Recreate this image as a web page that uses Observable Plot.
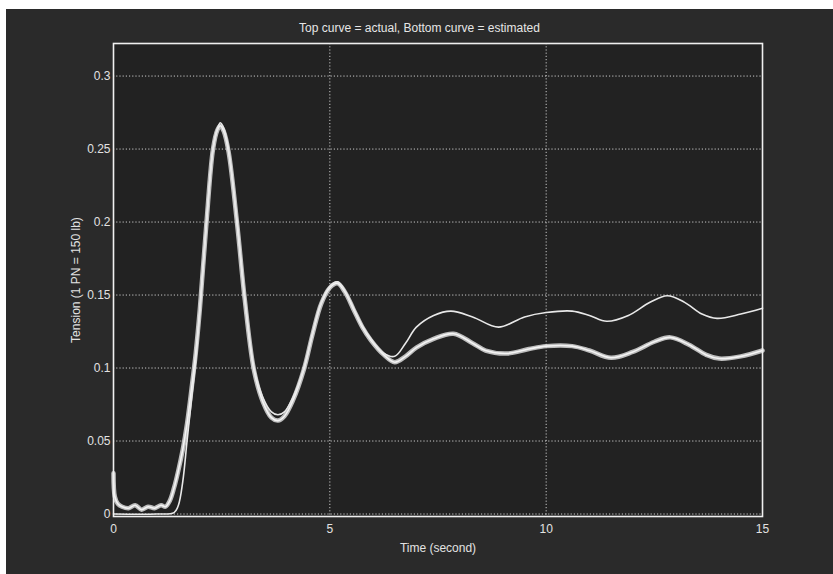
<!DOCTYPE html>
<html>
<head>
<meta charset="utf-8">
<script src="https://cdn.jsdelivr.net/npm/d3@7"></script>
<script src="https://cdn.jsdelivr.net/npm/@observablehq/plot@0.6"></script>
<style>
  html, body { margin: 0; padding: 0; background: #ffffff; }
  #panel { position: absolute; left: 6px; top: 9px; width: 827px; height: 565px; background: #2a2a2a; }
  #title { position: absolute; left: 0; width: 100%; top: 12px; text-align: center;
           font-family: "Liberation Sans", Arial, sans-serif; font-size: 12px; color: #e6e6e6; }
  #chart { position: absolute; left: 0; top: 0; }
</style>
</head>
<body>
<div id="panel">
  <div id="title">Top curve = actual, Bottom curve = estimated</div>
  <div id="chart"></div>
</div>
<script>
// Tick values
const xTicks = [0, 5, 10, 15];
const yTicks = [0, 0.05, 0.1, 0.15, 0.2, 0.25, 0.3];

// Actual (top) curve
const actualTime = [0, 1.0, 1.4, 1.5, 1.6, 1.7, 1.8, 1.9, 2.0, 2.15, 2.3, 2.4, 2.47, 2.55, 2.66, 2.86, 3.03, 3.25, 3.45, 3.65, 3.8, 3.95, 4.15, 4.4, 4.6, 4.8, 5.0, 5.18, 5.35, 5.55, 5.75, 5.95, 6.25, 6.5, 6.75, 7.0, 7.4, 7.8, 8.3, 8.9, 9.5, 10.0, 10.6, 11.0, 11.4, 11.9, 12.4, 12.8, 13.2, 13.6, 13.95, 14.5, 15];
const actualTension = [0, 0, 0.001, 0.006, 0.022, 0.05, 0.078, 0.105, 0.14, 0.2, 0.25, 0.264, 0.268, 0.264, 0.25, 0.2, 0.15, 0.1, 0.08, 0.07, 0.068, 0.07, 0.08, 0.1, 0.124, 0.145, 0.156, 0.159, 0.153, 0.141, 0.129, 0.12, 0.11, 0.108, 0.117, 0.128, 0.136, 0.139, 0.135, 0.128, 0.135, 0.138, 0.139, 0.136, 0.132, 0.136, 0.145, 0.1495, 0.145, 0.137, 0.134, 0.137, 0.141];

// Estimated (bottom) curve
const estTime = [0, 0.03, 0.1, 0.2, 0.35, 0.5, 0.65, 0.8, 0.95, 1.1, 1.2, 1.3, 1.4, 1.5, 1.6, 1.7, 1.8, 1.9, 2.0, 2.15, 2.3, 2.4, 2.47, 2.55, 2.66, 2.86, 3.03, 3.25, 3.45, 3.65, 3.8, 3.95, 4.15, 4.4, 4.6, 4.8, 5.0, 5.18, 5.35, 5.55, 5.75, 5.95, 6.25, 6.5, 6.75, 7.0, 7.4, 7.86, 8.3, 8.6, 9.1, 9.6, 10.0, 10.6, 11.0, 11.5, 12.0, 12.5, 12.87, 13.3, 13.7, 14.0, 14.5, 15];
const estTension = [0.028, 0.012, 0.007, 0.005, 0.004, 0.006, 0.003, 0.005, 0.004, 0.006, 0.005, 0.009, 0.018, 0.03, 0.044, 0.062, 0.085, 0.11, 0.142, 0.2, 0.25, 0.263, 0.266, 0.262, 0.248, 0.198, 0.148, 0.098, 0.077, 0.066, 0.064, 0.067, 0.078, 0.099, 0.123, 0.144, 0.155, 0.158, 0.152, 0.14, 0.128, 0.119, 0.109, 0.104, 0.108, 0.114, 0.12, 0.1235, 0.117, 0.112, 0.11, 0.113, 0.115, 0.115, 0.112, 0.107, 0.111, 0.118, 0.121, 0.116, 0.109, 0.1065, 0.108, 0.112];

const actual = actualTime.map((t, i) => ({t, v: actualTension[i]}));
const estimated = estTime.map((t, i) => ({t, v: estTension[i]}));

const font = "Liberation Sans, Arial, sans-serif";
const fg = "#e2e2e2";

const chart = Plot.plot({
  width: 827,
  height: 565,
  marginLeft: 107,
  marginRight: 71,
  marginTop: 34,
  marginBottom: 58,
  style: { background: "transparent", color: fg, fontFamily: font, fontSize: "12px" },
  x: { domain: [0, 15] },
  y: { domain: [-0.0017, 0.3223] },
  marks: [
    Plot.frame({ fill: "#222222", stroke: null }),
    Plot.gridX(xTicks.filter(d => d > 0 && d < 15), { stroke: "#dcdcdc", strokeOpacity: 0.9, strokeDasharray: "1.2,2", strokeWidth: 1 }),
    Plot.gridY(yTicks, { stroke: "#dcdcdc", strokeOpacity: 0.9, strokeDasharray: "1.2,2", strokeWidth: 1 }),
    Plot.line(estimated, { x: "t", y: "v", curve: "catmull-rom", stroke: "#d8d8d8", strokeWidth: 4.5, strokeOpacity: 0.85 }),
    Plot.line(estimated, { x: "t", y: "v", curve: "catmull-rom", stroke: "#f4f4f4", strokeWidth: 1.6 }),
    Plot.line(actual, { x: "t", y: "v", curve: "catmull-rom", stroke: "#e8e8e8", strokeWidth: 1.6 }),
    Plot.frame({ stroke: "#f0f0f0", strokeWidth: 1.6 }),
    Plot.axisX(xTicks, { tickSize: 0, tickPadding: 8, tickFormat: d => String(d), fill: fg, fontSize: 12,
      label: "Time (second)", labelAnchor: "center", labelArrow: "none", labelOffset: 35 }),
    Plot.axisY(yTicks, { tickSize: 0, tickPadding: 3, tickFormat: d => String(d), fill: fg, fontSize: 12,
      label: "Tension (1 PN = 150 lb)", labelAnchor: "center", labelArrow: "none", labelOffset: 42 })
  ]
});
document.getElementById("chart").appendChild(chart);
</script>
</body>
</html>
